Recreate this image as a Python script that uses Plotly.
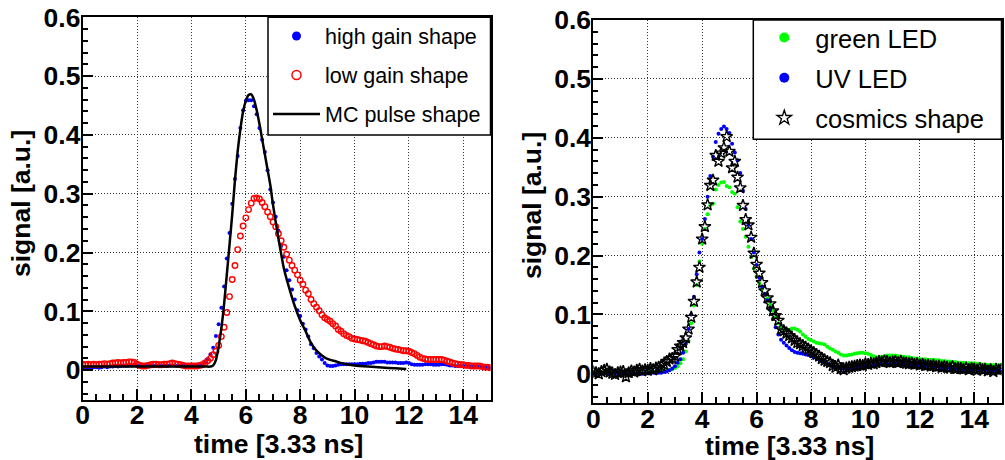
import plotly.graph_objects as go

# ---------------- data ----------------
time = [round(i * 0.1, 1) for i in range(151)]  # sampling points, 0.0 .. 15.0

high_gain = [
    0.004, 0.004, 0.005, 0.004, 0.005, 0.005, 0.004, 0.005, 0.006, 0.005,
    0.006, 0.006, 0.007, 0.006, 0.007, 0.008, 0.007, 0.008, 0.008, 0.009,
    0.008, 0.007, 0.007, 0.008, 0.007, 0.008, 0.007, 0.008, 0.008, 0.007,
    0.008, 0.007, 0.008, 0.008, 0.008, 0.007, 0.008, 0.008, 0.007, 0.008,
    0.008, 0.008, 0.009, 0.009, 0.010, 0.013, 0.019, 0.027, 0.038, 0.058,
    0.078, 0.106, 0.142, 0.190, 0.233, 0.283, 0.325, 0.364, 0.412, 0.442,
    0.458, 0.459, 0.459, 0.449, 0.435, 0.412, 0.392, 0.371, 0.340, 0.307,
    0.285, 0.261, 0.237, 0.211, 0.193, 0.170, 0.153, 0.137, 0.120, 0.102,
    0.092, 0.079, 0.069, 0.057, 0.044, 0.037, 0.029, 0.023, 0.018, 0.012,
    0.008, 0.007, 0.007, 0.008, 0.009, 0.010, 0.010, 0.010, 0.010, 0.010,
    0.010, 0.010, 0.011, 0.011, 0.011, 0.012, 0.012, 0.013, 0.014, 0.014,
    0.014, 0.014, 0.013, 0.013, 0.013, 0.013, 0.012, 0.012, 0.012, 0.013,
    0.012, 0.010, 0.009, 0.009, 0.009, 0.009, 0.010, 0.010, 0.010, 0.009,
    0.009, 0.009, 0.010, 0.010, 0.009, 0.008, 0.008, 0.007, 0.007, 0.007,
    0.007, 0.007, 0.007, 0.006, 0.006, 0.006, 0.006, 0.005, 0.005, 0.005,
    0.003,
]

low_gain = [
    0.010, 0.009, 0.010, 0.009, 0.010, 0.009, 0.010, 0.010, 0.011, 0.010,
    0.011, 0.012, 0.012, 0.013, 0.012, 0.013, 0.013, 0.014, 0.014, 0.013,
    0.010, 0.008, 0.007, 0.007, 0.008, 0.009, 0.010, 0.010, 0.009, 0.009,
    0.010, 0.010, 0.011, 0.012, 0.011, 0.010, 0.009, 0.008, 0.007, 0.007,
    0.007, 0.007, 0.007, 0.008, 0.009, 0.012, 0.016, 0.020, 0.026, 0.032,
    0.042, 0.057, 0.073, 0.098, 0.125, 0.154, 0.178, 0.205, 0.228, 0.245,
    0.259, 0.273, 0.284, 0.292, 0.293, 0.291, 0.285, 0.278, 0.269, 0.261,
    0.252, 0.244, 0.232, 0.220, 0.209, 0.197, 0.187, 0.178, 0.170, 0.162,
    0.153, 0.146, 0.136, 0.130, 0.120, 0.113, 0.107, 0.101, 0.094, 0.089,
    0.086, 0.083, 0.079, 0.075, 0.069, 0.066, 0.062, 0.059, 0.057, 0.054,
    0.053, 0.052, 0.051, 0.050, 0.049, 0.047, 0.045, 0.043, 0.041, 0.040,
    0.040, 0.041, 0.040, 0.039, 0.037, 0.036, 0.035, 0.034, 0.033, 0.033,
    0.032, 0.030, 0.028, 0.025, 0.022, 0.020, 0.019, 0.018, 0.018, 0.018,
    0.018, 0.018, 0.018, 0.017, 0.015, 0.014, 0.012, 0.011, 0.010, 0.009,
    0.009, 0.008, 0.008, 0.007, 0.007, 0.007, 0.007, 0.006, 0.005, 0.005,
    0.004,
]

mc_time = [0.0, 1.0, 2.0, 3.0, 4.0, 4.5, 4.7, 4.8, 4.9, 5.0, 5.1, 5.2, 5.3, 5.4,
           5.5, 5.6, 5.7, 5.8, 5.9, 6.0, 6.1, 6.2, 6.3, 6.4, 6.5, 6.6, 6.7, 6.8,
           6.9, 7.0, 7.2, 7.4, 7.6, 7.8, 8.0, 8.2, 8.4, 8.6, 8.8, 9.0, 9.3, 9.6,
           10.0, 10.5, 11.0, 11.5, 11.9]
mc_shape = [0.006, 0.006, 0.006, 0.006, 0.006, 0.006, 0.006, 0.008, 0.017, 0.040,
            0.071, 0.112, 0.162, 0.213, 0.265, 0.323, 0.372, 0.410, 0.440, 0.458,
            0.468, 0.469, 0.460, 0.442, 0.419, 0.393, 0.367, 0.341, 0.315, 0.281,
            0.224, 0.173, 0.139, 0.109, 0.085, 0.066, 0.046, 0.033, 0.025, 0.019,
            0.015, 0.011, 0.008, 0.006, 0.0045, 0.003, 0.002]

green_led = [
    0.002, 0.001, 0.002, 0.001, 0.002, 0.003, 0.002, 0.001, 0.002, 0.002,
    0.002, 0.002, 0.001, 0.002, 0.003, 0.002, 0.002, 0.003, 0.002, 0.002,
    0.002, 0.003, 0.002, 0.003, 0.003, 0.004, 0.004, 0.005, 0.006, 0.007,
    0.009, 0.012, 0.017, 0.024, 0.037, 0.055, 0.085, 0.115, 0.150, 0.190,
    0.220, 0.245, 0.270, 0.285, 0.288, 0.312, 0.320, 0.324, 0.325, 0.318,
    0.316, 0.308, 0.305, 0.282, 0.258, 0.245, 0.232, 0.215, 0.197, 0.178,
    0.165, 0.153, 0.143, 0.135, 0.127, 0.117, 0.106, 0.095, 0.085, 0.077,
    0.075, 0.074, 0.073, 0.076, 0.076, 0.074, 0.071, 0.066, 0.062, 0.058,
    0.056, 0.054, 0.052, 0.051, 0.050, 0.049, 0.045, 0.042, 0.040, 0.037,
    0.035, 0.032, 0.030, 0.030, 0.031, 0.032, 0.033, 0.034, 0.035, 0.035,
    0.034, 0.033, 0.031, 0.029, 0.027, 0.027, 0.028, 0.029, 0.030, 0.030,
    0.030, 0.030, 0.029, 0.029, 0.028, 0.027, 0.027, 0.026, 0.025, 0.025,
    0.024, 0.024, 0.024, 0.023, 0.023, 0.023, 0.022, 0.022, 0.021, 0.021,
    0.020, 0.020, 0.019, 0.019, 0.018, 0.018, 0.018, 0.017, 0.017, 0.017,
    0.017, 0.016, 0.016, 0.015, 0.015, 0.014, 0.014, 0.014, 0.014, 0.014,
    0.014,
]

uv_led = [
    0.000, -0.001, 0.000, -0.001, 0.000, 0.001, 0.000, -0.001, 0.000, 0.000,
    -0.001, 0.000, -0.001, 0.000, 0.000, -0.001, 0.000, 0.000, -0.001, 0.000,
    0.000, 0.000, 0.001, 0.000, 0.001, 0.001, 0.002, 0.003, 0.005, 0.008,
    0.012, 0.018, 0.024, 0.035, 0.050, 0.075, 0.100, 0.130, 0.168, 0.205,
    0.228, 0.262, 0.300, 0.335, 0.368, 0.393, 0.407, 0.415, 0.419, 0.415,
    0.408, 0.390, 0.375, 0.362, 0.340, 0.310, 0.279, 0.252, 0.228, 0.205,
    0.184, 0.162, 0.147, 0.135, 0.124, 0.108, 0.092, 0.078, 0.066, 0.057,
    0.052, 0.047, 0.043, 0.039, 0.036, 0.035, 0.034, 0.033, 0.032, 0.031,
    0.029, 0.027, 0.025, 0.023, 0.021, 0.019, 0.016, 0.014, 0.012, 0.010,
    0.009, 0.008, 0.008, 0.008, 0.008, 0.008, 0.009, 0.010, 0.011, 0.011,
    0.012, 0.013, 0.013, 0.014, 0.014, 0.015, 0.015, 0.016, 0.016, 0.016,
    0.016, 0.016, 0.015, 0.015, 0.015, 0.015, 0.014, 0.014, 0.014, 0.013,
    0.013, 0.013, 0.012, 0.012, 0.012, 0.011, 0.011, 0.011, 0.010, 0.010,
    0.009, 0.009, 0.008, 0.007, 0.007, 0.007, 0.006, 0.006, 0.006, 0.006,
    0.006, 0.006, 0.006, 0.006, 0.006, 0.005, 0.005, 0.005, 0.005, 0.005,
    0.005,
]

cosmics = [
    0.002, 0.001, -0.001, 0.003, 0.005, 0.007, 0.002, 0.000, -0.002, 0.001,
    0.002, 0.003, -0.006, 0.001, 0.004, 0.002, 0.005, 0.007, 0.004, 0.006,
    0.005, 0.008, 0.006, 0.009, 0.010, 0.013, 0.015, 0.020, 0.024, 0.025,
    0.029, 0.040, 0.046, 0.052, 0.060, 0.075, 0.095, 0.122, 0.155, 0.180,
    0.228, 0.249, 0.286, 0.319, 0.328, 0.370, 0.360, 0.374, 0.383, 0.402,
    0.377, 0.349, 0.360, 0.333, 0.315, 0.285, 0.261, 0.252, 0.231, 0.204,
    0.185, 0.170, 0.154, 0.140, 0.128, 0.118, 0.106, 0.098, 0.090, 0.075,
    0.072, 0.068, 0.064, 0.060, 0.056, 0.052, 0.050, 0.047, 0.044, 0.041,
    0.038, 0.035, 0.032, 0.029, 0.025, 0.022, 0.020, 0.018, 0.013, 0.010,
    0.014, 0.008, 0.006, 0.009, 0.010, 0.011, 0.012, 0.013, 0.014, 0.013,
    0.016, 0.015, 0.017, 0.016, 0.018, 0.020, 0.019, 0.021, 0.020, 0.018,
    0.019, 0.020, 0.018, 0.020, 0.018, 0.017, 0.016, 0.017, 0.015, 0.016,
    0.014, 0.015, 0.013, 0.014, 0.012, 0.013, 0.011, 0.012, 0.010, 0.011,
    0.010, 0.009, 0.011, 0.008, 0.009, 0.008, 0.007, 0.009, 0.006, 0.008,
    0.007, 0.005, 0.008, 0.006, 0.007, 0.004, 0.006, 0.003, 0.007, 0.005,
    0.007,
]

x_tickvals = [0, 2, 4, 6, 8, 10, 12, 14]
y_tickvals = [0, 0.1, 0.2, 0.3, 0.4, 0.5, 0.6]

# ---------------- figure ----------------
W, H = 1005, 460
FONT = "Liberation Sans, Arial, Helvetica, sans-serif"
BLUE, RED, GREEN = "#0000ff", "#ff0000", "#00ff00"

fig = go.Figure()

# left panel
fig.add_trace(go.Scatter(x=time, y=high_gain, mode="markers", xaxis="x", yaxis="y",
                         marker=dict(color=BLUE, size=4), showlegend=False))
fig.add_trace(go.Scatter(x=time, y=low_gain, mode="markers", xaxis="x", yaxis="y",
                         marker=dict(symbol="circle-open", color=RED, size=5.5,
                                     line=dict(width=1.4, color=RED)), showlegend=False))
fig.add_trace(go.Scatter(x=mc_time, y=mc_shape, mode="lines", xaxis="x", yaxis="y",
                         line=dict(color="black", width=2.5, shape="spline", smoothing=0.6),
                         showlegend=False))
# left legend entries
fig.add_trace(go.Scatter(x=[None], y=[None], mode="markers", name="high gain shape",
                         marker=dict(color=BLUE, size=9), legend="legend", legendgroup="a"))
fig.add_trace(go.Scatter(x=[None], y=[None], mode="markers", name="low gain shape",
                         marker=dict(symbol="circle-open", color=RED, size=9,
                                     line=dict(width=1.5, color=RED)),
                         legend="legend", legendgroup="b"))
fig.add_trace(go.Scatter(x=[None], y=[None], mode="lines", name="MC pulse shape",
                         line=dict(color="black", width=2.5), legend="legend", legendgroup="c"))

# right panel
fig.add_trace(go.Scatter(x=time, y=green_led, mode="markers", xaxis="x2", yaxis="y2",
                         marker=dict(color=GREEN, size=4), showlegend=False))
fig.add_trace(go.Scatter(x=time, y=uv_led, mode="markers", xaxis="x2", yaxis="y2",
                         marker=dict(color=BLUE, size=4), showlegend=False))
fig.add_trace(go.Scatter(x=time, y=cosmics, mode="markers", xaxis="x2", yaxis="y2",
                         marker=dict(symbol="star-open", color="black", size=9,
                                     line=dict(width=1.4, color="black")), showlegend=False))
# right legend entries
fig.add_trace(go.Scatter(x=[None], y=[None], mode="markers", name="green LED",
                         marker=dict(color=GREEN, size=10), legend="legend2", legendgroup="d"))
fig.add_trace(go.Scatter(x=[None], y=[None], mode="markers", name="UV LED",
                         marker=dict(color=BLUE, size=10), legend="legend2", legendgroup="e"))
fig.add_trace(go.Scatter(x=[None], y=[None], mode="markers", name="cosmics shape",
                         marker=dict(symbol="star-open", color="black", size=11,
                                     line=dict(width=1.3, color="black")),
                         legend="legend2", legendgroup="f"))


def xaxis(domain, anchor):
    return dict(domain=domain, anchor=anchor, range=[0, 15], tickvals=x_tickvals,
                automargin=False,
                ticks="inside", ticklen=11, tickwidth=1.5, tickcolor="black",
                minor=dict(dtick=0.5, tick0=0, ticks="inside", ticklen=6, tickwidth=1.5,
                           tickcolor="black", showgrid=False),
                showgrid=True, gridcolor="#333", gridwidth=1, griddash="1px,2px",
                zeroline=False, showline=True, linecolor="black", linewidth=2, mirror=True,
                tickfont=dict(family=FONT, size=26.5, color="black", weight="bold"),
                ticklabelstandoff=-9)


def yaxis(domain, anchor):
    return dict(domain=domain, anchor=anchor, range=[-0.05, 0.6001], tickvals=y_tickvals,
                automargin=False,
                ticks="inside", ticklen=10, tickwidth=1.5, tickcolor="black",
                minor=dict(dtick=0.02, tick0=0, ticks="inside", ticklen=5, tickwidth=1.5,
                           tickcolor="black", showgrid=False),
                showgrid=True, gridcolor="#333", gridwidth=1, griddash="1px,2px",
                zeroline=False, showline=True, linecolor="black", linewidth=2, mirror=True,
                tickfont=dict(family=FONT, size=26.5, color="black", weight="bold"),
                ticklabelstandoff=-5)


L_x = [82.7 / W, 490.5 / W]
R_x = [593.3 / W, 1001.5 / W]
L_y = [1 - 399.5 / H, 1 - 17.3 / H]
R_y = [1 - 402.7 / H, 1 - 20.0 / H]

title_font = dict(family=FONT, size=26.5, color="black", weight="bold")

fig.update_layout(
    width=W, height=H, margin=dict(l=0, r=0, t=0, b=0, autoexpand=False),
    paper_bgcolor="white", plot_bgcolor="white",
    xaxis=xaxis(L_x, "y"), yaxis=yaxis(L_y, "x"),
    xaxis2=xaxis(R_x, "y2"), yaxis2=yaxis(R_y, "x2"),
    legend=dict(x=268 / W, y=1 - 15.5 / H, xanchor="left", yanchor="top",
                bgcolor="rgba(0,0,0,0)", borderwidth=0, traceorder="grouped",
                tracegroupgap=8, itemwidth=47,
                font=dict(family=FONT, size=21.5, color="black")),
    legend2=dict(x=753.3 / W, y=1 - 14.5 / H, xanchor="left", yanchor="top",
                 bgcolor="rgba(0,0,0,0)", borderwidth=0, traceorder="grouped",
                 tracegroupgap=4, itemwidth=52,
                 font=dict(family=FONT, size=25.5, color="black")),
    shapes=[
        dict(type="rect", xref="paper", yref="paper", layer="above",
             x0=268 / W, x1=490.5 / W, y0=1 - 135 / H, y1=1 - 17.3 / H,
             fillcolor="white", line=dict(color="black", width=1.5)),
        dict(type="rect", xref="paper", yref="paper", layer="above",
             x0=753.3 / W, x1=1001.5 / W, y0=1 - 139.3 / H, y1=1 - 20.0 / H,
             fillcolor="white", line=dict(color="black", width=1.5)),
    ],
    annotations=[
        dict(text="time [3.33 ns]", xref="paper", yref="paper", x=278 / W, y=1 - 444 / H,
             xanchor="center", yanchor="middle", showarrow=False, font=title_font),
        dict(text="time [3.33 ns]", xref="paper", yref="paper", x=789 / W, y=1 - 446 / H,
             xanchor="center", yanchor="middle", showarrow=False, font=title_font),
        dict(text="signal [a.u.]", xref="paper", yref="paper", x=21 / W, y=1 - 204 / H,
             xanchor="center", yanchor="middle", showarrow=False, textangle=-90,
             font=title_font),
        dict(text="signal [a.u.]", xref="paper", yref="paper", x=532 / W, y=1 - 206 / H,
             xanchor="center", yanchor="middle", showarrow=False, textangle=-90,
             font=title_font),
    ],
)

fig.write_html("out.html", config={"displayModeBar": False},
               post_script="document.body.style.margin='0';document.body.style.overflow='hidden';")
